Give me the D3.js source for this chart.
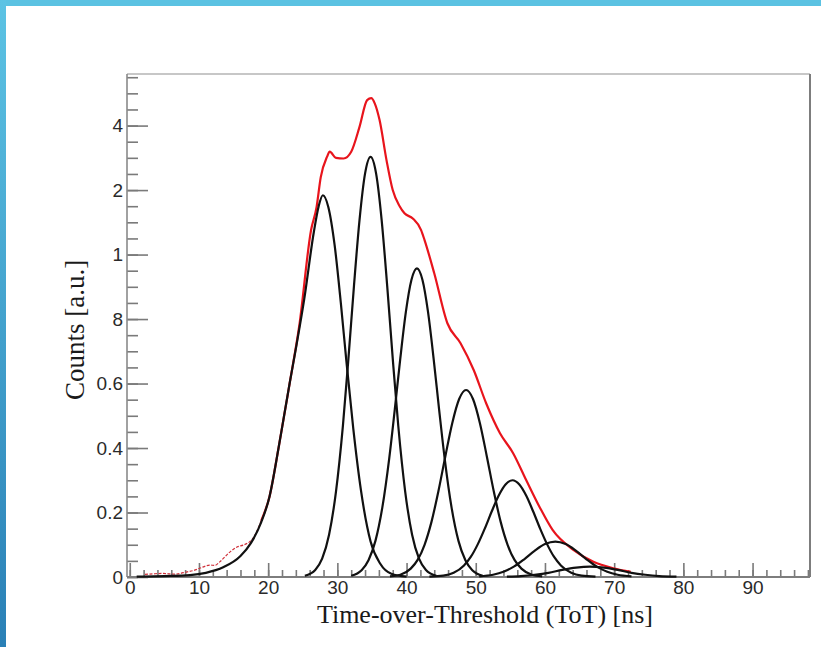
<!DOCTYPE html>
<html>
<head>
<meta charset="utf-8">
<script src="https://cdn.jsdelivr.net/npm/d3@7"></script>
<style>
  html, body { margin: 0; padding: 0; background: #fff; }
  svg { display: block; }
</style>
</head>
<body>
<div class="chart"></div>
<script>
const WIDTH = 821, HEIGHT = 647;

// tick labels as they appear on the picture
const xTickValues = [0, 10, 20, 30, 40, 50, 60, 70, 80, 90];
const xTickLabels = ["0", "10", "20", "30", "40", "50", "60", "70", "80", "90"];
const yTickValues = [0, 0.2, 0.4, 0.6, 0.8, 1.0, 1.2, 1.4];
const yTickLabels = ["0", "0.2", "0.4", "0.6", "8", "1", "2", "4"];

// fitted components [ToT ns, counts]
const gauss1 = [[1,0.001],[5,0.003],[8.7,0.006],[11,0.013],[13.5,0.03],[16,0.065],[17.5,0.105],[19,0.17],[20.2,0.25],[21.5,0.40],[22.3,0.50],[23.1,0.60],[24.1,0.72],[25.2,0.86],[26.6,1.07],[27.3,1.15],[27.9,1.184],[28.7,1.147],[29.6,1.03],[30.5,0.85],[31.3,0.67],[32.3,0.46],[33.4,0.27],[34.8,0.11],[36.2,0.041],[37.8,0.01],[40,0.001]];
const gauss2 = [[25.3,0.004],[26.8,0.022],[27.8,0.057],[28.8,0.131],[29.8,0.265],[30.8,0.469],[31.6,0.678],[32.4,0.903],[33.2,1.107],[34.0,1.251],[34.8,1.303],[35.6,1.251],[36.4,1.107],[37.2,0.903],[38.0,0.678],[38.8,0.469],[39.8,0.265],[40.8,0.131],[41.8,0.057],[42.8,0.022],[44.3,0.004]];
const gauss3 = [[32,0.004],[33.5,0.021],[34.5,0.052],[35.5,0.112],[36.5,0.216],[37.5,0.369],[38.3,0.52],[39.1,0.679],[39.9,0.822],[40.7,0.921],[41.5,0.957],[42.3,0.921],[43.1,0.822],[43.9,0.679],[44.7,0.52],[45.5,0.369],[46.5,0.216],[47.5,0.112],[48.5,0.052],[49.5,0.021],[51,0.004]];
const gauss4 = [[37.6,0.002],[39.1,0.007],[40.6,0.026],[41.6,0.053],[42.6,0.10],[43.6,0.171],[44.6,0.266],[45.6,0.374],[46.6,0.477],[47.6,0.552],[48.6,0.58],[49.6,0.552],[50.6,0.477],[51.6,0.374],[52.6,0.266],[53.6,0.171],[54.6,0.10],[55.6,0.053],[56.6,0.026],[58.1,0.007],[59.6,0.002]];
const gauss5 = [[43.3,0.001],[45.3,0.004],[46.8,0.013],[48.3,0.036],[49.3,0.063],[50.3,0.102],[51.3,0.15],[52.3,0.203],[53.3,0.252],[54.3,0.287],[55.3,0.30],[56.3,0.287],[57.3,0.252],[58.3,0.203],[59.3,0.15],[60.3,0.102],[61.3,0.063],[62.3,0.036],[63.8,0.013],[65.3,0.004],[67.3,0.001]];
const gauss6 = [[50.5,0.002],[52.5,0.007],[54,0.016],[55.5,0.032],[57,0.055],[58.5,0.081],[60,0.102],[61.5,0.11],[63,0.102],[64.5,0.081],[66,0.055],[67.5,0.032],[69,0.016],[70.5,0.007],[72.5,0.002]];
const gauss7 = [[54.5,0.001],[56.5,0.003],[58.5,0.007],[60.5,0.013],[62.5,0.022],[64.5,0.029],[66.5,0.032],[68.5,0.029],[70.5,0.022],[72.5,0.013],[74.5,0.007],[76.5,0.003],[79,0.001]];

// measured spectrum (noisy low tail) and total fit
const dataTail = [[2.2,0.008],[3.5,0.01],[4.8,0.011],[6.5,0.009],[8.3,0.016],[9.2,0.02],[10.1,0.027],[11.6,0.037],[12.3,0.036],[13.0,0.047],[14.5,0.078],[15.5,0.093],[16.4,0.099],[17.3,0.109],[17.8,0.12],[19,0.175]];
const totalFit = [[19,0.175],[20.2,0.25],[21.5,0.40],[23.1,0.60],[24.5,0.78],[26.2,1.076],[27.0,1.148],[27.6,1.24],[28.5,1.303],[28.9,1.319],[29.8,1.30],[30.9,1.298],[32.0,1.319],[33.2,1.396],[34.3,1.479],[34.9,1.485],[35.4,1.469],[36.1,1.417],[37.1,1.293],[38.0,1.2],[39.0,1.15],[39.7,1.128],[40.9,1.112],[42.1,1.076],[42.6,1.045],[44.0,0.942],[45.9,0.787],[47.8,0.725],[49.7,0.642],[51.5,0.539],[53.5,0.446],[55.4,0.384],[57.3,0.30],[59.2,0.218],[61.1,0.146],[64.1,0.084],[67.0,0.047],[69.9,0.027],[72.4,0.016]];

const margin = {left: 127, top: 74, right: 11, bottom: 70};
const plotW = WIDTH - margin.left - margin.right;
const plotH = HEIGHT - margin.top - margin.bottom;

const svg = d3.select(".chart")
  .append("svg")
  .attr("width", WIDTH)
  .attr("height", HEIGHT);

// slide frame
svg.append("rect").attr("width", WIDTH).attr("height", HEIGHT).attr("fill", "#fff");
const grad = svg.append("defs").append("linearGradient")
  .attr("id", "side").attr("x1", 0).attr("y1", 0).attr("x2", 0).attr("y2", 1);
grad.append("stop").attr("offset", "0%").attr("stop-color", "#5cc3e4");
grad.append("stop").attr("offset", "100%").attr("stop-color", "#2a80b6");
svg.append("rect").attr("x", 0).attr("y", 0).attr("width", WIDTH).attr("height", 6).attr("fill", "#5bc2e2");
svg.append("rect").attr("x", 0).attr("y", 0).attr("width", 6).attr("height", HEIGHT).attr("fill", "url(#side)");

const x = d3.scaleLinear().domain([-0.4, 98.3]).range([0, plotW]);
const y = d3.scaleLinear().domain([0, 1.56]).range([plotH, 0]);

const g = svg.append("g").attr("transform", `translate(${margin.left},${margin.top})`);

g.append("clipPath").attr("id", "clip")
  .append("rect").attr("width", plotW).attr("height", plotH + 1);

// axes, ticks pointing inward
const xMinor = d3.axisBottom(x).tickValues(d3.range(0, 98.3, 2)).tickSize(-7).tickFormat("");
const xMajor = d3.axisBottom(x).tickValues(xTickValues).tickSize(-14).tickPadding(3)
  .tickFormat((d, i) => xTickLabels[i]);
const yMinor = d3.axisLeft(y).tickValues(d3.range(0, 1.56, 0.05)).tickSize(-11).tickFormat("");
const yMajor = d3.axisLeft(y).tickValues(yTickValues).tickSize(-21).tickPadding(4)
  .tickFormat((d, i) => yTickLabels[i]);

function styleAxis(sel) {
  sel.select(".domain").remove();
  sel.selectAll("line").attr("stroke", "#7a7a7a").attr("stroke-width", 1.6);
  sel.selectAll("text")
    .attr("fill", "#2a2a2a")
    .style("font-family", "'Liberation Sans', Arial, sans-serif")
    .style("font-size", "19px");
}
function dropLabels(sel) {
  sel.selectAll("text").remove();
}

g.append("g").attr("transform", `translate(0,${plotH})`).call(xMinor).call(styleAxis).call(dropLabels);
g.append("g").attr("transform", `translate(0,${plotH})`).call(xMajor).call(styleAxis);
g.append("g").call(yMinor).call(styleAxis).call(dropLabels);
g.append("g").call(yMajor).call(styleAxis);

// frame
g.append("line").attr("x1", 0).attr("x2", plotW).attr("y1", 0).attr("y2", 0)
  .attr("stroke", "#b5b5b5").attr("stroke-width", 1.5);
g.append("line").attr("x1", plotW).attr("x2", plotW).attr("y1", 0).attr("y2", plotH)
  .attr("stroke", "#7d7d7d").attr("stroke-width", 2);
g.append("line").attr("x1", 0).attr("x2", 0).attr("y1", 0).attr("y2", plotH)
  .attr("stroke", "#8a8a8a").attr("stroke-width", 1.6);
g.append("line").attr("x1", 0).attr("x2", plotW).attr("y1", plotH).attr("y2", plotH)
  .attr("stroke", "#7d7d7d").attr("stroke-width", 2);

const line = d3.line()
  .x(d => x(d[0]))
  .y(d => y(d[1]))
  .curve(d3.curveMonotoneX);

const curves = g.append("g").attr("clip-path", "url(#clip)");

curves.append("path")
  .datum(dataTail)
  .attr("d", line)
  .attr("fill", "none")
  .attr("stroke", "#d0303a")
  .attr("stroke-width", 1.2)
  .attr("stroke-dasharray", "3,1.5");

curves.append("path")
  .datum(totalFit)
  .attr("d", line)
  .attr("fill", "none")
  .attr("stroke", "#e8141c")
  .attr("stroke-width", 2.2);

[gauss1, gauss2, gauss3, gauss4, gauss5, gauss6, gauss7].forEach(function(s) {
  curves.append("path")
    .datum(s)
    .attr("d", line)
    .attr("fill", "none")
    .attr("stroke", "#111")
    .attr("stroke-width", 2.2);
});

// axis titles
svg.append("text")
  .attr("x", 485).attr("y", 623)
  .attr("text-anchor", "middle")
  .style("font-family", "'Liberation Serif', 'Times New Roman', serif")
  .style("font-size", "26px")
  .attr("fill", "#1a1a1a")
  .text("Time-over-Threshold (ToT) [ns]");

svg.append("text")
  .attr("transform", "translate(84,330) rotate(-90)")
  .attr("text-anchor", "middle")
  .style("font-family", "'Liberation Serif', 'Times New Roman', serif")
  .style("font-size", "27px")
  .attr("fill", "#1a1a1a")
  .text("Counts [a.u.]");
</script>
</body>
</html>
